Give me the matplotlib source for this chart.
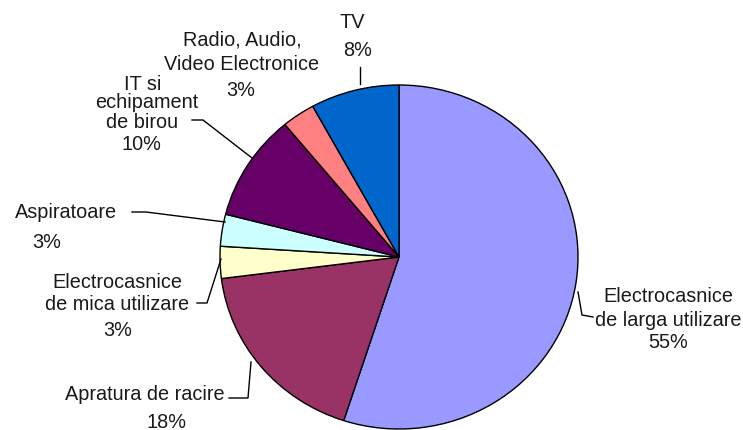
import matplotlib.pyplot as plt
from matplotlib.lines import Line2D

# data, clockwise from 12 o'clock
labels = ['Electrocasnice\nde larga utilizare', 'Apratura de racire',
          'Electrocasnice\nde mica utilizare', 'Aspiratoare',
          'IT si\nechipament\nde birou', 'Radio, Audio,\nVideo Electronice', 'TV']
shares = [55, 18, 3, 3, 10, 3, 8]
colors = ['#9999FF', '#993366', '#FFFFCC', '#CCFFFF', '#660066', '#FF8080', '#0066CC']

W, H = 743, 430
cx, cy, rx, ry = 399, 257, 179, 172   # pie geometry in pixels (y down)
s = ry / rx

fig = plt.figure(figsize=(W / 100, H / 100), dpi=100)
ax = fig.add_axes([0, 0, 1, 1])
ax.pie(shares, colors=colors, startangle=90, counterclock=False,
       center=(cx, (H - cy) / s), radius=rx, frame=True,
       wedgeprops=dict(edgecolor='black', linewidth=1.0))
ax.set_xlim(0, W)
ax.set_ylim(0, H / s)
ax.set_aspect('auto')
ax.axis('off')

font = dict(family=['Liberation Sans', 'DejaVu Sans'], fontsize=14.3, color='#1a1a1a')


def label(lines, pos):
    # lines of a label, each placed at its own (x, y) pixel centre
    for txt, (x, y) in zip(lines, pos):
        fig.text(x / W, 1 - y / H, txt, ha='center', va='center', **font)


def leader(pts):
    xs = [p[0] / W for p in pts]
    ys = [1 - p[1] / H for p in pts]
    fig.add_artist(Line2D(xs, ys, color='black', lw=1.0, transform=fig.transFigure))


def lines_of(i):
    return labels[i].split('\n') + ['%d%%' % shares[i]]


label(lines_of(0), [(668, 297), (668, 320), (668, 343)])
leader([(578, 292), (582, 315), (593, 317)])

label(lines_of(1), [(145, 395), (166, 422)])
leader([(229, 398), (248, 398), (251, 362)])

label(lines_of(2), [(117, 283), (117, 305), (118, 330)])
leader([(197, 303), (207, 303), (221, 259)])

label(lines_of(3), [(66, 213), (47, 242)])
leader([(132, 212), (146, 212), (225, 222)])

label(lines_of(4), [(143, 84), (147, 103), (142, 123), (141, 145)])
leader([(192, 120), (203, 120), (252, 158)])

label(lines_of(5), [(242, 40), (242, 65), (241, 90)])

label(lines_of(6), [(352, 22), (358, 50)])
leader([(360, 67), (360, 84)])

fig.savefig('out.png', dpi=100, facecolor='white')
